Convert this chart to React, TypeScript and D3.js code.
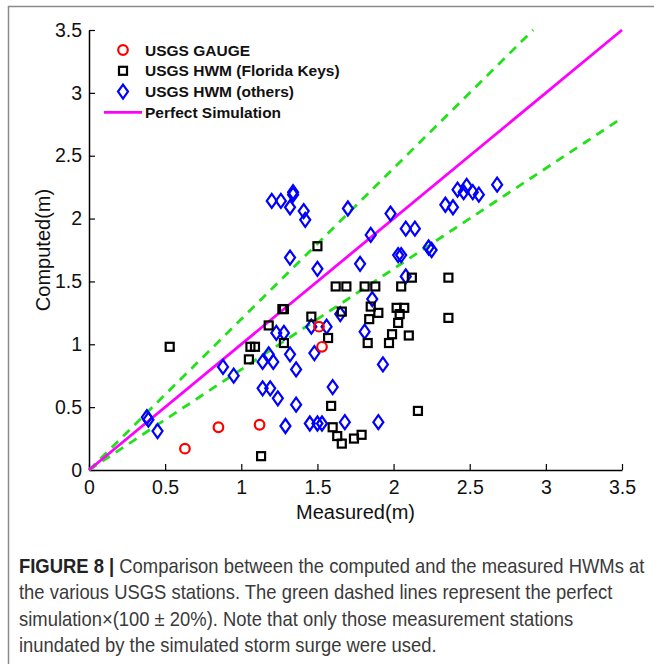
import React, { useEffect, useRef } from 'react';
import * as d3 from 'd3';

// USGS GAUGE [measured, computed]
const gaugePoints: [number, number][] = [
  [0.63, 0.17], [0.85, 0.34], [1.12, 0.36], [1.51, 1.14], [1.53, 0.98],
];

// USGS HWM (Florida Keys)
const keysPoints: [number, number][] = [
  [0.53, 0.98], [1.06, 0.98], [1.09, 0.98], [1.05, 0.88], [1.13, 0.11],
  [1.18, 1.15], [1.27, 1.28], [1.28, 1.28], [1.28, 1.01], [1.46, 1.22],
  [1.50, 1.78], [1.57, 1.05], [1.59, 0.51], [1.60, 0.34], [1.63, 0.27],
  [1.66, 0.21], [1.74, 0.25], [1.79, 0.28], [1.62, 1.46], [1.69, 1.46],
  [1.66, 1.26], [1.81, 1.46], [1.88, 1.46], [1.85, 1.30], [1.90, 1.25],
  [1.84, 1.20], [1.83, 1.01], [1.97, 1.01], [1.99, 1.08], [2.02, 1.29],
  [2.07, 1.29], [2.04, 1.24], [2.03, 1.17], [2.10, 1.07], [2.05, 1.46],
  [2.12, 1.53], [2.36, 1.53], [2.36, 1.21], [2.16, 0.47],
];

// USGS HWM (others)
const otherPoints: [number, number][] = [
  [0.38, 0.42], [0.39, 0.40], [0.45, 0.31], [0.88, 0.82], [0.95, 0.75],
  [1.23, 1.09], [1.28, 1.09], [1.14, 0.86], [1.18, 0.92], [1.21, 0.86],
  [1.14, 0.65], [1.19, 0.65], [1.24, 0.57], [1.29, 0.35], [1.32, 0.92],
  [1.36, 0.80], [1.36, 0.52], [1.45, 0.37], [1.50, 0.37], [1.53, 0.37],
  [1.48, 0.93], [1.46, 1.14], [1.56, 1.14], [1.60, 0.66], [1.68, 0.38],
  [1.81, 1.10], [1.90, 0.38], [1.93, 0.84], [1.65, 1.24], [1.86, 1.36],
  [1.20, 2.14], [1.26, 2.14], [1.34, 2.21], [1.34, 2.19], [1.32, 2.09],
  [1.41, 2.06], [1.42, 1.99], [1.70, 2.08], [1.32, 1.69], [1.50, 1.60],
  [1.78, 1.64], [1.85, 1.87], [1.98, 2.04], [2.08, 1.92], [2.14, 1.92],
  [2.03, 1.71], [2.05, 1.71], [2.23, 1.77], [2.25, 1.75], [2.08, 1.54],
  [2.34, 2.11], [2.39, 2.09], [2.42, 2.23], [2.46, 2.21], [2.48, 2.26],
  [2.52, 2.21], [2.56, 2.19], [2.68, 2.27],
];

const ticks = [0, 0.5, 1, 1.5, 2, 2.5, 3, 3.5];
const fitFactors = [1.2, 0.8];

const legendItems = [
  { label: 'USGS GAUGE', kind: 'circle' },
  { label: 'USGS HWM (Florida Keys)', kind: 'square' },
  { label: 'USGS HWM (others)', kind: 'diamond' },
  { label: 'Perfect Simulation', kind: 'line' },
];

const captionLines = [
  ['FIGURE 8 |', ' Comparison between the computed and the measured HWMs at'],
  ['', 'the various USGS stations. The green dashed lines represent the perfect'],
  ['', 'simulation\u00d7(100 \u00b1 20%). Note that only those measurement stations'],
  ['', 'inundated by the simulated storm surge were used.'],
];

const W = 654;
const H = 664;

export default function App() {
  const ref = useRef<SVGSVGElement>(null);

  useEffect(() => {
    const svg = d3.select(ref.current);
    svg.selectAll('*').remove();

    const x = d3.scaleLinear().domain([0, 3.5]).range([89, 622]);
    const y = d3.scaleLinear().domain([0, 3.5]).range([470, 30]);
    const font = 'Arial, "Liberation Sans", Helvetica, sans-serif';

    // frame
    svg.append('path')
      .attr('d', `M8.5,${H + 2} V6.5 H${W + 2}`)
      .attr('fill', 'none')
      .attr('stroke', '#8a8a8a')
      .attr('stroke-width', 1.5);

    // axes (ticks pointing inward)
    const xAxis = svg.append('g')
      .attr('transform', `translate(0,${y(0)})`)
      .call(d3.axisBottom(x).tickValues(ticks).tickSizeInner(-6).tickSizeOuter(0).tickPadding(10)
        .tickFormat(d => String(d)));
    const yAxis = svg.append('g')
      .attr('transform', `translate(${x(0)},0)`)
      .call(d3.axisLeft(y).tickValues(ticks).tickSizeInner(-6).tickSizeOuter(0).tickPadding(7)
        .tickFormat(d => String(d)));
    [xAxis, yAxis].forEach(a => {
      a.attr('font-size', null).attr('font-family', null);
      a.select('.domain').attr('stroke', '#000').attr('stroke-width', 1.5);
      a.selectAll('.tick line').attr('stroke', '#000').attr('stroke-width', 1.2);
      a.selectAll('.tick text')
        .attr('font-family', font)
        .style('font-size', '19.5px')
        .attr('fill', '#111');
    });

    svg.append('text')
      .attr('x', (x(0) + x(3.5)) / 2)
      .attr('y', 519)
      .attr('text-anchor', 'middle')
      .attr('font-family', font)
      .style('font-size', '20px')
      .attr('fill', '#111')
      .text('Measured(m)');

    svg.append('text')
      .attr('transform', `translate(50,${(y(0) + y(3.5)) / 2}) rotate(-90)`)
      .attr('text-anchor', 'middle')
      .attr('font-family', font)
      .style('font-size', '20px')
      .attr('fill', '#111')
      .text('Computed(m)');

    // reference lines
    fitFactors.forEach(f => {
      const xEnd = Math.min(3.5, 3.5 / f);
      svg.append('line')
        .attr('x1', x(0)).attr('y1', y(0))
        .attr('x2', x(xEnd)).attr('y2', y(xEnd * f))
        .attr('stroke', '#22e01a')
        .attr('stroke-width', 2.8)
        .attr('stroke-dasharray', '9,7');
    });
    svg.append('line')
      .attr('x1', x(0)).attr('y1', y(0))
      .attr('x2', x(3.5)).attr('y2', y(3.5))
      .attr('stroke', '#ff00ff')
      .attr('stroke-width', 2.8);

    // markers
    const drawSquare = (g: any, cx: number, cy: number) =>
      g.append('rect')
        .attr('x', cx - 4).attr('y', cy - 4)
        .attr('width', 8).attr('height', 8)
        .attr('fill', 'none').attr('stroke', '#000').attr('stroke-width', 2.2);
    const drawDiamond = (g: any, cx: number, cy: number) =>
      g.append('path')
        .attr('d', `M${cx},${cy - 7} L${cx + 5},${cy} L${cx},${cy + 7} L${cx - 5},${cy} Z`)
        .attr('fill', 'none').attr('stroke', '#0000ff').attr('stroke-width', 2.2);
    const drawCircle = (g: any, cx: number, cy: number) =>
      g.append('circle')
        .attr('cx', cx).attr('cy', cy).attr('r', 4.8)
        .attr('fill', 'none').attr('stroke', '#ff0000').attr('stroke-width', 2.2);

    const marks = svg.append('g');
    otherPoints.forEach(d => drawDiamond(marks, x(d[0]), y(d[1])));
    keysPoints.forEach(d => drawSquare(marks, x(d[0]), y(d[1])));
    gaugePoints.forEach(d => drawCircle(marks, x(d[0]), y(d[1])));

    // legend
    const legend = svg.append('g');
    legendItems.forEach((item, i) => {
      const ly = 50 + i * 20.8;
      if (item.kind === 'circle') drawCircle(legend, 123, ly);
      if (item.kind === 'square') drawSquare(legend, 123, ly);
      if (item.kind === 'diamond') drawDiamond(legend, 123, ly);
      if (item.kind === 'line') {
        legend.append('line')
          .attr('x1', 104).attr('x2', 142).attr('y1', ly).attr('y2', ly)
          .attr('stroke', '#ff00ff').attr('stroke-width', 2.8);
      }
      legend.append('text')
        .attr('x', 145)
        .attr('y', ly + 5.5)
        .attr('font-family', font)
        .style('font-size', '15.5px')
        .attr('font-weight', 'bold')
        .attr('fill', '#111')
        .text(item.label);
    });

    // caption: tall condensed face approximated by a horizontally squeezed Arial
    const caption = svg.append('g').attr('transform', 'translate(19,0) scale(0.921,1)');
    captionLines.forEach((line, i) => {
      const t = caption.append('text')
        .attr('x', 0)
        .attr('y', 573 + i * 26.5)
        .attr('font-family', font)
        .style('font-size', '20px')
        .attr('fill', '#3a3a3a');
      if (line[0]) t.append('tspan').attr('font-weight', 'bold').attr('fill', '#222').text(line[0]);
      t.append('tspan').text(line[1]);
    });
  }, []);

  return (
    <svg
      ref={ref}
      width={W}
      height={H}
      style={{ position: 'absolute', left: 0, top: 0, background: '#fff' }}
    />
  );
}
